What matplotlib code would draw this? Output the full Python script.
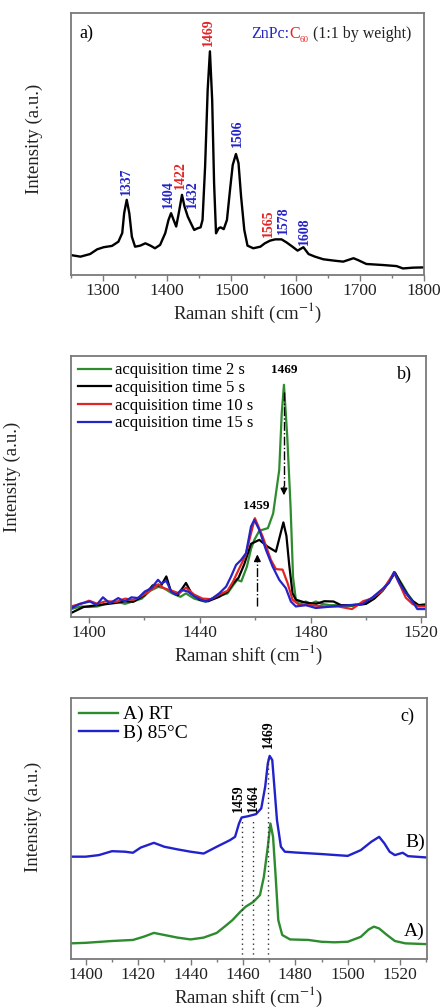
import matplotlib
matplotlib.use("Agg")
import matplotlib.pyplot as plt
import numpy as np

plt.rcParams["font.family"] = ["Liberation Serif", "DejaVu Serif"]
plt.rcParams["mathtext.fontset"] = "stix"

BLUE = "#2424c8"
RED = "#e22424"
GREEN = "#2e8b2e"
FRAME = "#7a7a7a"

# ---- panel a: ZnPc:C60 spectrum (intensity as fraction of plot height)
a_x = [1250, 1265, 1280, 1291, 1301, 1314, 1324, 1330, 1333, 1337, 1341, 1345,
       1350, 1358, 1366, 1374, 1381, 1389, 1397, 1402, 1406, 1410, 1414, 1418,
       1423, 1427, 1432, 1437, 1442, 1447, 1452, 1455, 1459, 1463, 1466.5, 1470,
       1473, 1476, 1480, 1483, 1488, 1493, 1498, 1502, 1507, 1511, 1515, 1520,
       1525, 1534, 1545, 1552, 1560, 1568, 1578, 1586, 1595, 1603, 1612, 1620,
       1630, 1643, 1659, 1674, 1690, 1697, 1710, 1736, 1757, 1767, 1783, 1800]
a_y = [0.076, 0.070, 0.080, 0.098, 0.106, 0.111, 0.127, 0.160, 0.236, 0.287,
       0.236, 0.146, 0.108, 0.112, 0.121, 0.112, 0.102, 0.115, 0.160, 0.210,
       0.236, 0.210, 0.185, 0.236, 0.306, 0.261, 0.223, 0.197, 0.172, 0.178,
       0.182, 0.210, 0.414, 0.707, 0.854, 0.669, 0.350, 0.159, 0.178, 0.182,
       0.175, 0.210, 0.330, 0.420, 0.462, 0.427, 0.300, 0.172, 0.112, 0.102,
       0.108, 0.121, 0.131, 0.136, 0.136, 0.124, 0.108, 0.093, 0.106, 0.080,
       0.070, 0.060, 0.055, 0.051, 0.064, 0.057, 0.042, 0.038, 0.034, 0.025,
       0.028, 0.029]
a_peaks = [1337, 1404, 1422, 1432, 1469, 1506, 1565, 1578, 1608]
a_peak_x = [1337, 1402, 1420, 1439, 1464, 1509, 1557.5, 1581, 1613]
a_peak_y = [0.306, 0.255, 0.327, 0.255, 0.873, 0.488, 0.144, 0.157, 0.115]
a_peak_c = [BLUE, BLUE, RED, BLUE, RED, BLUE, RED, BLUE, BLUE]

# ---- panel b: acquisition time series
b_labels = ["acquisition time 2 s", "acquisition time 5 s",
            "acquisition time 10 s", "acquisition time 15 s"]
b_colors = [GREEN, "black", RED, BLUE]
b_green_x = [1393.5, 1397, 1400, 1403, 1406, 1410, 1413, 1416, 1419, 1422, 1425,
             1427, 1430, 1433, 1435, 1438, 1442, 1446, 1450, 1452, 1453.5, 1455,
             1457, 1458.5, 1459.7, 1461.5, 1464.6, 1466.5, 1468.7, 1469.6, 1470.4,
             1471.6, 1472.8, 1473.7, 1474.7, 1476, 1478.3, 1480, 1481.9, 1484,
             1487, 1490, 1495, 1500, 1503, 1506, 1508.4, 1510.5, 1512.5, 1515,
             1517, 1519, 1521.7]
b_green_y = [0.030, 0.040, 0.038, 0.040, 0.050, 0.058, 0.050, 0.060, 0.070,
             0.100, 0.115, 0.110, 0.090, 0.077, 0.090, 0.070, 0.058, 0.077,
             0.090, 0.120, 0.142, 0.136, 0.192, 0.260, 0.295, 0.330, 0.340,
             0.396, 0.563, 0.780, 0.889, 0.690, 0.420, 0.150, 0.066, 0.050,
             0.059, 0.050, 0.059, 0.050, 0.045, 0.045, 0.042, 0.050, 0.070,
             0.100, 0.135, 0.168, 0.135, 0.090, 0.060, 0.045, 0.050]
b_black_x = [1393.5, 1398, 1403, 1407, 1410, 1413, 1416, 1420, 1423, 1426,
             1427.9, 1429.5, 1432, 1435, 1437, 1440, 1443, 1447, 1450, 1452,
             1454, 1456, 1458.5, 1461.5, 1464.5, 1467.5, 1470.2, 1471.3, 1472.3,
             1473.5, 1474.7, 1478, 1482, 1485, 1488.3, 1491, 1495, 1500, 1503,
             1506, 1508.4, 1510.5, 1512.5, 1515, 1517, 1519, 1521.7]
b_black_y = [0.015, 0.038, 0.045, 0.050, 0.054, 0.060, 0.058, 0.083, 0.121,
             0.120, 0.155, 0.100, 0.083, 0.130, 0.090, 0.065, 0.060, 0.077,
             0.096, 0.128, 0.150, 0.200, 0.280, 0.295, 0.269, 0.250, 0.362,
             0.310, 0.200, 0.090, 0.066, 0.055, 0.050, 0.060, 0.059, 0.045,
             0.045, 0.050, 0.070, 0.100, 0.135, 0.170, 0.130, 0.085, 0.060,
             0.045, 0.045]
b_red_x = [1393.5, 1397, 1400, 1403, 1406, 1410, 1413, 1416, 1419, 1422, 1425,
           1427, 1430, 1432.5, 1435, 1438, 1441, 1444, 1447, 1450, 1452, 1454,
           1456.5, 1458.5, 1459.9, 1462.7, 1465.7, 1467.5, 1469.9, 1471.7,
           1473.5, 1475.9, 1480, 1485, 1490, 1495, 1499, 1502, 1505.9, 1508.4,
           1510.2, 1512, 1514.4, 1516.8, 1519, 1521.7]
b_red_y = [0.040, 0.050, 0.062, 0.050, 0.060, 0.058, 0.070, 0.065, 0.080, 0.100,
           0.125, 0.110, 0.100, 0.090, 0.112, 0.085, 0.070, 0.068, 0.085, 0.100,
           0.135, 0.180, 0.235, 0.320, 0.378, 0.308, 0.218, 0.183, 0.181, 0.130,
           0.066, 0.046, 0.045, 0.040, 0.040, 0.030, 0.060, 0.070, 0.100, 0.140,
           0.170, 0.130, 0.074, 0.050, 0.040, 0.040]
b_blue_x = [1393.5, 1396.6, 1400.3, 1402.7, 1405, 1407.5, 1410.5, 1412.9, 1415.3,
            1417.7, 1420.1, 1422.5, 1424.9, 1426.1, 1427.9, 1429.7, 1431.5,
            1433.3, 1435.7, 1438.1, 1440.5, 1442.3, 1444.7, 1447.1, 1449.5,
            1451.3, 1453.1, 1454.9, 1456.7, 1458.5, 1459.7, 1461.5, 1463.9,
            1466.3, 1468.7, 1471.1, 1472.9, 1474.7, 1478.3, 1481.9, 1487.9, 1494,
            1498.7, 1502.3, 1505.9, 1508.4, 1510.2, 1512, 1514.4, 1516.8, 1518.6,
            1521.7]
b_blue_y = [0.033, 0.050, 0.059, 0.046, 0.075, 0.052, 0.072, 0.059, 0.075,
            0.072, 0.097, 0.110, 0.142, 0.128, 0.138, 0.097, 0.084, 0.104,
            0.097, 0.078, 0.065, 0.059, 0.072, 0.091, 0.116, 0.155, 0.199,
            0.218, 0.244, 0.346, 0.372, 0.333, 0.257, 0.193, 0.142, 0.110,
            0.059, 0.040, 0.045, 0.034, 0.040, 0.045, 0.049, 0.074, 0.106,
            0.131, 0.172, 0.131, 0.092, 0.060, 0.030, 0.030]
b_series_x = [b_green_x, b_black_x, b_red_x, b_blue_x]
b_series_y = [b_green_y, b_black_y, b_red_y, b_blue_y]

# ---- panel c: RT vs 85 C
c_labels = ["A) RT", "B) 85\u00b0C"]
c_rt_x = [1394.3, 1400, 1410, 1418, 1422, 1426, 1430, 1435, 1440, 1445, 1450,
          1453, 1456, 1459, 1461, 1464, 1466.5, 1468, 1469.5, 1470.5, 1471.5,
          1472.5, 1473.5, 1475, 1478, 1485, 1490, 1495, 1500, 1505, 1508, 1510,
          1512, 1515, 1518, 1522, 1530]
c_rt_y = [0.060, 0.062, 0.069, 0.073, 0.085, 0.100, 0.092, 0.082, 0.075, 0.082,
          0.100, 0.124, 0.149, 0.181, 0.200, 0.219, 0.245, 0.315, 0.430, 0.519,
          0.468, 0.315, 0.149, 0.092, 0.075, 0.073, 0.066, 0.064, 0.066, 0.085,
          0.113, 0.124, 0.117, 0.092, 0.069, 0.060, 0.057]
c_85_x = [1394.3, 1400, 1405, 1410, 1415, 1418, 1421, 1426, 1430, 1435, 1440,
          1445, 1450, 1455, 1457, 1458.5, 1459.5, 1462, 1465, 1467, 1468.5,
          1469.5, 1470.2, 1471.2, 1472, 1473, 1474.5, 1476, 1480, 1490, 1500,
          1505, 1509, 1512, 1514, 1516, 1518, 1520, 1521, 1523, 1530]
c_85_y = [0.392, 0.392, 0.398, 0.413, 0.411, 0.407, 0.427, 0.445, 0.430, 0.420,
          0.411, 0.404, 0.430, 0.455, 0.468, 0.519, 0.542, 0.547, 0.555, 0.577,
          0.660, 0.749, 0.778, 0.762, 0.660, 0.532, 0.430, 0.411, 0.408, 0.402,
          0.395, 0.417, 0.449, 0.468, 0.443, 0.411, 0.398, 0.404, 0.407, 0.394,
          0.389]
c_marks = [1459, 1464, 1469]
c_mark_x = [1459.5, 1464, 1469.6]
c_mark_top = [0.54, 0.54, 0.77]
c_mark_label_y = [0.565, 0.565, 0.81]

fig = plt.figure(figsize=(4.4, 10.08), dpi=100)
ax_a = fig.add_axes([0.161, 0.7272, 0.803, 0.2598])
ax_b = fig.add_axes([0.161, 0.388, 0.807, 0.259])
ax_c = fig.add_axes([0.161, 0.0486, 0.809, 0.259])


def style(ax, xlim, major, minor, ylab_x, ylab_y):
    ax.set_xlim(*xlim)
    ax.set_ylim(0, 1)
    ax.set_yticks([])
    ax.set_xticks(major)
    ax.set_xticks(minor, minor=True)
    ax.tick_params(axis="x", which="major", direction="out", length=4,
                   width=1, colors=FRAME, labelcolor="#222222", labelsize=12.5,
                   pad=2)
    ax.tick_params(axis="x", which="minor", direction="out", length=2.5,
                   width=1, colors=FRAME)
    for s in ax.spines.values():
        s.set_color(FRAME)
        s.set_linewidth(1.3)
    ax.set_xlabel(r"Raman shift (cm$^{-1}$)", fontsize=13.5, color="#222222",
                  labelpad=1)
    ax.set_ylabel("Intensity (a.u.)", fontsize=13.5, color="#222222")
    ax.yaxis.set_label_coords(ylab_x, ylab_y)


# panel a
ax_a.plot(a_x, a_y, color="black", lw=1.7)
for lab, px, py, pc in zip(a_peaks, a_peak_x, a_peak_y, a_peak_c):
    ax_a.text(px, py, str(lab), rotation=90, ha="center", va="bottom",
              color=pc, fontsize=10, fontweight="bold")
style(ax_a, (1250, 1800), np.arange(1300, 1801, 100),
      np.arange(1250, 1801, 50), -0.079, 0.52)
ax_a.text(0.025, 0.955, "a)", transform=ax_a.transAxes, fontsize=13,
          va="top", ha="left")
t1 = ax_a.text(0.51, 0.905, "ZnPc:", transform=ax_a.transAxes,
               color=BLUE, fontsize=11.5, va="baseline")
t2 = ax_a.annotate("C", xy=(1, 0.905), xycoords=(t1, "axes fraction"),
                   color=RED, fontsize=11.5, va="baseline")
t3 = ax_a.annotate("60", xy=(1, 0.905), xycoords=(t2, "axes fraction"),
                   xytext=(0, -3), textcoords="offset points",
                   color=RED, fontsize=6.5, va="baseline")
ax_a.annotate(" (1:1 by weight)", xy=(1, 0.905), xycoords=(t3, "axes fraction"),
              color="#222222", fontsize=11.5, va="baseline")

# panel b
for xs, ys, col, lab in zip(b_series_x, b_series_y, b_colors, b_labels):
    ax_b.plot(xs, ys, color=col, lw=1.6, label=lab)
style(ax_b, (1393.4, 1521.7), np.arange(1400, 1521, 40),
      np.arange(1400, 1521, 20), -0.141, 0.536)
ax_b.legend(loc="upper left", frameon=False, fontsize=12, handlelength=2.0,
            handletextpad=0.25, labelspacing=0.1, borderaxespad=0.2,
            borderpad=0.2)
ax_b.text(0.96, 0.93, "b)", transform=ax_b.transAxes, fontsize=13,
          ha="right", va="center")
ax_b.text(1470.4, 0.946, "1469", ha="center", va="center", fontsize=9.5,
          fontweight="bold")
ax_b.text(1460.5, 0.425, "1459", ha="center", va="center", fontsize=9.5,
          fontweight="bold")
# dotted arrows
ax_b.plot([1470.4, 1470.4], [0.86, 0.50], color="black", lw=1, ls="-.")
ax_b.annotate("", xy=(1470.4, 0.455), xytext=(1470.4, 0.51),
              arrowprops=dict(arrowstyle="-|>", color="black", lw=1,
                              mutation_scale=10))
ax_b.plot([1460.8, 1460.8], [0.04, 0.21], color="black", lw=1, ls="-.")
ax_b.annotate("", xy=(1460.8, 0.25), xytext=(1460.8, 0.20),
              arrowprops=dict(arrowstyle="-|>", color="black", lw=1,
                              mutation_scale=10))

# panel c
ax_c.plot(c_rt_x, c_rt_y, color=GREEN, lw=1.7, label=c_labels[0])
ax_c.plot(c_85_x, c_85_y, color="#2222cc", lw=1.7, label=c_labels[1])
style(ax_c, (1394.3, 1530.2), np.arange(1400, 1521, 20),
      np.arange(1400, 1531, 10), -0.081, 0.544)
for lab, mx, mt, ly in zip(c_marks, c_mark_x, c_mark_top, c_mark_label_y):
    ax_c.plot([mx, mx], [0, mt], color="#333333", lw=1, ls=(0, (1, 2.5)))
    ax_c.text(mx - 1.2 if lab == 1459 else mx, ly, str(lab), rotation=90,
              ha="center", va="bottom", fontsize=10, fontweight="bold")
ax_c.legend(loc="upper left", frameon=False, fontsize=14, handlelength=2.0,
            handletextpad=0.3, labelspacing=0.05, borderaxespad=0.2,
            borderpad=0.2)
ax_c.text(0.965, 0.93, "c)", transform=ax_c.transAxes, fontsize=13,
          ha="right", va="center")
ax_c.text(1529.5, 0.448, "B)", ha="right", va="center", fontsize=14)
ax_c.text(1529.5, 0.105, "A)", ha="right", va="center", fontsize=14)

fig.savefig("out.png", dpi=100)
